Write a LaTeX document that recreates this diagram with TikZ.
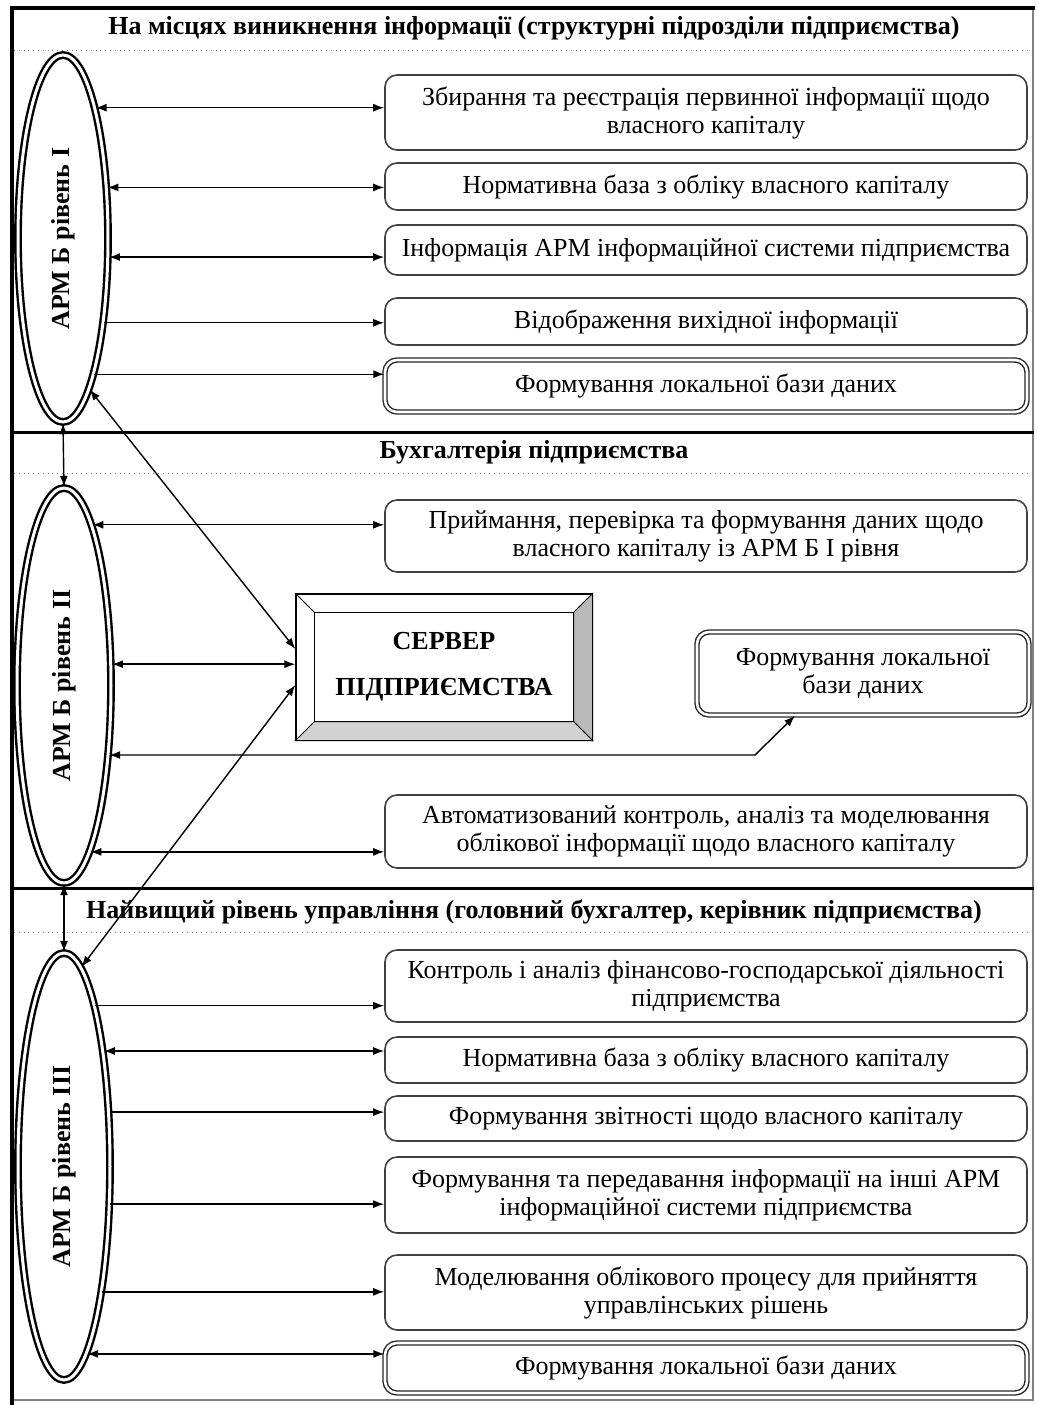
\documentclass[tikz,border=0pt]{standalone}
\usepackage{fontspec}
\setmainfont{Liberation Serif}
\usepackage{graphicx}
\usetikzlibrary{shapes.geometric,arrows.meta}

\begin{document}
\begin{tikzpicture}[x=0.5pt,y=-0.5pt,>={Latex[length=5.5pt,width=4pt]}]
	\tikzset{blk/.style={draw=black!75,line width=0.8pt,rounded corners=6pt,minimum width=321pt,align=center,inner sep=2pt,font=\fontsize{13}{14}\selectfont},
	         dblk/.style={blk,draw=black!85,double=white,double distance=1.3pt,line width=0.7pt},
	         arm/.style={ellipse,draw,line width=1.2pt,double=white,double distance=1.5pt,inner sep=0pt,font=\fontsize{13}{14}\selectfont\bfseries},
	         hdr/.style={font=\fontsize{13}{14}\selectfont\bfseries},
	         lnk/.style={line width=0.7pt}}
	\useasboundingbox (0,0) rectangle (1039,1405);

	% frame
	\draw[gray,line width=0.6pt] (1033,8) -- (1033,1400) -- (12,1400);
	\draw[line width=2pt] (12,1405) -- (12,8) -- (1035,8);
	\draw[line width=1.5pt] (12,432) -- (1034,432);
	\draw[line width=1.5pt] (12,888) -- (1034,888);
	\draw[gray,dotted] (14,50) -- (1032,50);
	\draw[gray,dotted] (14,473) -- (1032,473);
	\draw[gray,dotted] (14,932) -- (1032,932);

	\node[hdr] (h1) at (534,28) {На місцях виникнення інформації (структурні підрозділи підприємства)};
	\node[hdr] (h2) at (534,452) {Бухгалтерія підприємства};
	\node[hdr] (h3) at (534,912) {Найвищий рівень управління (головний бухгалтер, керівник підприємства)};

	\node[arm,minimum width=45pt,minimum height=183.5pt] (ell1) at (63,238.5) {\rotatebox{90}{АРМ Б рівень I}};
	\node[arm,minimum width=47pt,minimum height=197.5pt] (ell2) at (64,685.5) {\rotatebox{90}{АРМ Б рівень II}};
	\node[arm,minimum width=46pt,minimum height=213.5pt] (ell3) at (64,1166.5) {\rotatebox{90}{АРМ Б рівень III}};

	% level I
	\node[blk,minimum height=37.5pt] (b1) at (706,112.5) {Збирання та реєстрація первинної інформації щодо\\власного капіталу};
	\node[blk,minimum height=23.5pt] (b2) at (706,186.5) {Нормативна база з обліку власного капіталу};
	\node[blk,minimum height=25pt] (b3) at (706,250) {Інформація АРМ інформаційної системи підприємства};
	\node[blk,minimum height=23.5pt] (b4) at (706,321.5) {Відображення вихідної інформації};
	\node[dblk,minimum height=26pt] (b5) at (706,386) {Формування локальної бази даних};

	% level II
	\node[blk,minimum height=36pt] (b6) at (706,536) {Приймання, перевірка та формування даних щодо\\власного капіталу із АРМ Б I рівня};
	\node[dblk,minimum width=166pt,minimum height=41.5pt] (b7) at (863,673.5) {Формування локальної\\бази даних};
	\node[blk,minimum height=36.5pt] (b8) at (706,831.5) {Автоматизований контроль, аналіз та моделювання\\облікової інформації щодо власного капіталу};

	\node[draw,line width=0.6pt,minimum width=148pt,minimum height=73pt,inner sep=0pt,align=center,font=\fontsize{13}{23}\selectfont\bfseries] (srv) at (444,667) {СЕРВЕР\\ПІДПРИЄМСТВА};
	\fill[gray!55,draw=black,line width=0.5pt] (srv.north east) -- (srv.south east) -- ([xshift=-9.5pt,yshift=9.5pt]srv.south east) -- ([xshift=-9.5pt,yshift=-9.5pt]srv.north east) -- cycle;
	\fill[gray!35,draw=black,line width=0.5pt] (srv.south west) -- (srv.south east) -- ([xshift=-9.5pt,yshift=9.5pt]srv.south east) -- ([xshift=9.5pt,yshift=9.5pt]srv.south west) -- cycle;
	\draw[line width=0.5pt] ([xshift=9.5pt,yshift=-9.5pt]srv.north west) rectangle ([xshift=-9.5pt,yshift=9.5pt]srv.south east);
	\draw[line width=0.5pt] (srv.north west) -- ([xshift=9.5pt,yshift=-9.5pt]srv.north west);

	% level III
	\node[blk,minimum height=36pt] (b9) at (706,986) {Контроль і аналіз фінансово-господарської діяльності\\підприємства};
	\node[blk,minimum height=23pt] (b10) at (706,1060) {Нормативна база з обліку власного капіталу};
	\node[blk,minimum height=22.5pt] (b11) at (706,1118.5) {Формування звітності щодо власного капіталу};
	\node[blk,minimum height=38pt] (b12) at (706,1195) {Формування та передавання інформації на інші АРМ\\інформаційної системи підприємства};
	\node[blk,minimum height=37.5pt] (b13) at (706,1292.5) {Моделювання облікового процесу для прийняття\\управлінських рішень};
	\node[dblk,minimum height=25pt] (b14) at (706,1368) {Формування локальної бази даних};

	\coordinate (knee) at (755,753);

	% arrows
	\draw[lnk,<->] (ell1.76) -- (ell1.76 -| b1.west);
	\draw[lnk,<->] (ell1.49) -- (ell1.49 -| b2.west);
	\draw[lnk,<->] (ell1.-22) -- (ell1.-22 -| b3.west);
	\draw[lnk,->] (ell1.-64) -- (ell1.-64 -| b4.west);
	\draw[lnk,->] (ell1.-77) -- (ell1.-77 -| b5.west);
	\draw[lnk,<->] (ell1.south) -- (ell2.north);
	\draw[lnk,<->] (ell1.-80) -- ([yshift=9pt]srv.west);

	\draw[lnk,<->] (ell2.80) -- (ell2.80 -| b6.west);
	\draw[lnk,<->] (ell2.24) -- (ell2.24 -| srv.west);
	\draw[lnk,<->] (ell2.-57) -- (ell2.-57 -| knee) -- ([xshift=-34pt]b7.south);
	\draw[lnk,<->] (ell2.-81) -- (ell2.-81 -| b8.west);
	\draw[lnk,<->] (ell2.south) -- (ell3.north);
	\draw[lnk,<->] (ell3.85) -- ([yshift=-9pt]srv.west);

	\draw[lnk,->] (ell3.79) -- (ell3.79 -| b9.west);
	\draw[lnk,<->] (ell3.71) -- (ell3.71 -| b10.west);
	\draw[lnk,->] (ell3.50) -- (ell3.50 -| b11.west);
	\draw[lnk,->] (ell3.-39) -- (ell3.-39 -| b12.west);
	\draw[lnk,->] (ell3.-73) -- (ell3.-73 -| b13.west);
	\draw[lnk,<->] (ell3.-83.5) -- (ell3.-83.5 -| b14.west);
\end{tikzpicture}
\end{document}
